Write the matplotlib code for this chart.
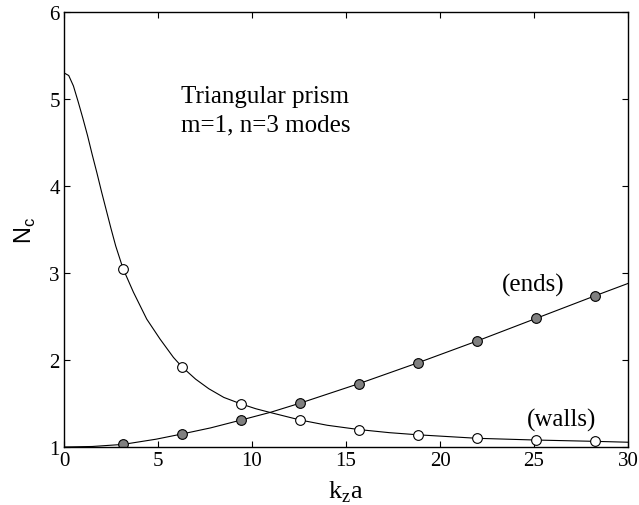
import matplotlib.pyplot as plt

plt.rcParams['mathtext.fontset'] = 'custom'
plt.rcParams['mathtext.rm'] = 'Liberation Serif'
plt.rcParams['mathtext.sf'] = 'Liberation Sans'

# curves
walls_x = [0, 0.25, 0.5, 0.75, 1.0, 1.25, 1.5, 1.75, 2.0, 2.25, 2.5, 2.75, 3.14, 3.69, 4.4, 5.11,
           5.82, 6.28, 7.0, 7.7, 8.5, 9.42, 10.2, 11.0, 12.57, 14.0, 15.71, 17.3, 18.85, 21.99, 25.13, 28.27, 30]
walls_y = [5.30, 5.27, 5.15, 4.97, 4.78, 4.58, 4.36, 4.15, 3.93, 3.72, 3.51, 3.31, 3.05, 2.78, 2.47, 2.24,
           2.03, 1.92, 1.78, 1.67, 1.57, 1.495, 1.44, 1.395, 1.31, 1.25, 1.20, 1.165, 1.14, 1.10, 1.08, 1.065, 1.055]
ends_x = [0, 1.5, 3.14, 4.9, 6.28, 7.8, 9.42, 11.0, 12.57, 15.71, 18.85, 21.99, 25.13, 28.27, 30]
ends_y = [1.0, 1.006, 1.03, 1.09, 1.15, 1.22, 1.31, 1.40, 1.505, 1.73, 1.97, 2.22, 2.48, 2.74, 2.88]

# computed modes (markers)
mode_x = [3.14, 6.28, 9.42, 12.57, 15.71, 18.85, 21.99, 25.13, 28.27]
walls_pts = [3.05, 1.92, 1.495, 1.31, 1.20, 1.14, 1.10, 1.08, 1.065]
ends_pts = [1.03, 1.15, 1.31, 1.505, 1.73, 1.97, 2.22, 2.48, 2.74]

serif = 'Liberation Serif'

fig = plt.figure(figsize=(6.39, 5.06), dpi=100)
ax = fig.add_axes([0.1002, 0.1146, 0.8826, 0.8597])

ax.plot(walls_x, walls_y, color='black', lw=0.8, solid_joinstyle='round')
ax.plot(ends_x, ends_y, color='black', lw=0.8, solid_joinstyle='round')
ax.plot(mode_x, walls_pts, 'o', ms=7, mfc='white', mec='black', mew=0.8)
ax.plot(mode_x, ends_pts, 'o', ms=7, mfc='#808080', mec='black', mew=0.8)

ax.set_xlim(0, 30)
ax.set_ylim(1, 6)
ax.set_xticks([0, 5, 10, 15, 20, 25, 30])
ax.set_yticks([1, 2, 3, 4, 5, 6])
ax.tick_params(direction='in', length=4, top=True, right=True, labelsize=15, pad=3)
for lab in ax.get_xticklabels() + ax.get_yticklabels():
    lab.set_fontfamily(serif)
for s in ax.spines.values():
    s.set_linewidth(1.0)

ax.set_xlabel(r'k$_\mathrm{z}$a', fontfamily=serif, fontsize=19, labelpad=6)
ax.set_ylabel(r'N$_\mathsf{c}$', fontfamily='Liberation Sans', fontsize=17, labelpad=8)

ax.text(6.2, 4.87, 'Triangular prism\nm=1, n=3 modes', fontfamily=serif, fontsize=18,
        va='center', ha='left', linespacing=1.35)
ax.text(23.3, 2.87, '(ends)', fontfamily=serif, fontsize=18, va='center')
ax.text(24.6, 1.32, '(walls)', fontfamily=serif, fontsize=18, va='center')

fig.savefig('out.png', dpi=100)
